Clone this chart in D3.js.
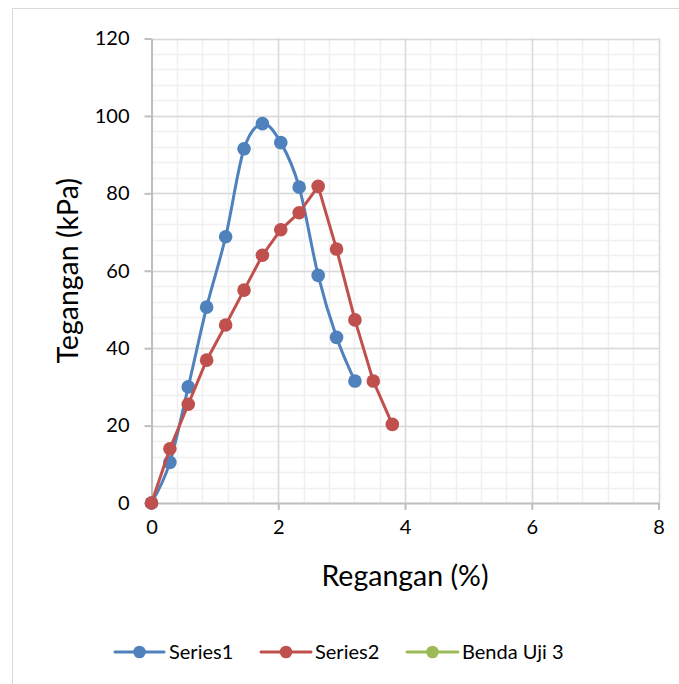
<!DOCTYPE html>
<html>
<head>
<meta charset="utf-8">
<script src="https://cdn.jsdelivr.net/npm/d3@7"></script>
<style>
  html, body { margin: 0; padding: 0; background: #fff; }
  svg { display: block; font-family: Lato, "Open Sans", sans-serif; }
</style>
</head>
<body>
<svg id="chart" width="679" height="684"></svg>
<script>
// Strain (%) and stress (kPa) readings for each specimen
const strain1 = [0, 0.29, 0.58, 0.87, 1.17, 1.46, 1.75, 2.04, 2.33, 2.63, 2.92, 3.21];
const stress1 = [0, 10.5, 30.0, 50.6, 68.8, 91.5, 98.0, 93.1, 81.6, 58.8, 42.8, 31.5];

const strain2 = [0, 0.29, 0.58, 0.87, 1.17, 1.46, 1.75, 2.04, 2.33, 2.63, 2.92, 3.21, 3.50, 3.80];
const stress2 = [0, 14.0, 25.5, 36.9, 46.0, 55.0, 64.0, 70.6, 75.0, 81.8, 65.6, 47.3, 31.5, 20.3];

const strain3 = [];
const stress3 = [];

const seriesNames = ["Series1", "Series2", "Benda Uji 3"];
const seriesColors = ["#4F81BD", "#C0504D", "#9BBB59"];
const seriesSmooth = [true, false, false];

const xTicks = [0, 2, 4, 6, 8];
const yTicks = [0, 20, 40, 60, 80, 100, 120];
const xMinorStep = 0.4;
const yMinorStep = 4;

const xTitle = "Regangan (%)";
const yTitle = "Tegangan (kPa)";

const svg = d3.select("#chart");

// chart frame
svg.append("rect")
  .attr("x", 12.5).attr("y", 8.5)
  .attr("width", 700).attr("height", 700)
  .attr("fill", "none").attr("stroke", "#D9D9D9").attr("stroke-width", 1);

const plot = { left: 151.5, right: 658.5, top: 38.5, bottom: 503 };

const x = d3.scaleLinear().domain([0, 8]).range([plot.left, plot.right]);
const y = d3.scaleLinear().domain([0, 120]).range([plot.bottom, plot.top]);

// minor gridlines
const xMinor = d3.range(0, 8 + 1e-9, xMinorStep);
const yMinor = d3.range(0, 120 + 1e-9, yMinorStep);
const grid = svg.append("g");
grid.selectAll(".xminor").data(xMinor).join("line")
  .attr("x1", d => Math.round(x(d)) + 0.5).attr("x2", d => Math.round(x(d)) + 0.5)
  .attr("y1", plot.top).attr("y2", plot.bottom)
  .attr("stroke", "#F0F0F0").attr("stroke-width", 1.5);
grid.selectAll(".yminor").data(yMinor).join("line")
  .attr("x1", plot.left).attr("x2", plot.right)
  .attr("y1", d => Math.round(y(d)) + 0.5).attr("y2", d => Math.round(y(d)) + 0.5)
  .attr("stroke", "#F0F0F0").attr("stroke-width", 1.5);

// major gridlines
grid.selectAll(".xmajor").data(xTicks.slice(1)).join("line")
  .attr("x1", d => Math.round(x(d)) + 0.5).attr("x2", d => Math.round(x(d)) + 0.5)
  .attr("y1", plot.top).attr("y2", plot.bottom)
  .attr("stroke", "#D9D9D9").attr("stroke-width", 1.5);
grid.selectAll(".ymajor").data(yTicks.slice(1)).join("line")
  .attr("x1", plot.left).attr("x2", plot.right)
  .attr("y1", d => Math.round(y(d)) + 0.5).attr("y2", d => Math.round(y(d)) + 0.5)
  .attr("stroke", "#D9D9D9").attr("stroke-width", 1.5);

// axes
const xAxis = d3.axisBottom(x).tickValues(xTicks).tickSizeInner(7).tickSizeOuter(0).tickPadding(10);
const yAxis = d3.axisLeft(y).tickValues(yTicks).tickSizeInner(7).tickSizeOuter(0).tickPadding(15);

const gx = svg.append("g").attr("transform", `translate(0,${plot.bottom})`).call(xAxis);
const gy = svg.append("g").attr("transform", `translate(${plot.left},0)`).call(yAxis);

[gx, gy].forEach(g => {
  g.select(".domain").attr("stroke", "#BFBFBF").attr("stroke-width", 2);
  g.selectAll(".tick line").attr("stroke", "#BFBFBF").attr("stroke-width", 2);
  g.selectAll(".tick text").attr("fill", "#000").style("font-size", "20px")
    .style("font-family", "Lato, sans-serif");
});

// axis titles
svg.append("text")
  .attr("x", (plot.left + plot.right) / 2).attr("y", 586)
  .attr("text-anchor", "middle").attr("fill", "#000")
  .style("font-size", "28.5px").text(xTitle);

svg.append("text")
  .attr("transform", `translate(78,${(plot.top + plot.bottom) / 2}) rotate(-90)`)
  .attr("text-anchor", "middle").attr("fill", "#000")
  .style("font-size", "28.5px").text(yTitle);

// series
const series = [
  { xs: strain1, ys: stress1 },
  { xs: strain2, ys: stress2 },
  { xs: strain3, ys: stress3 }
];

series.forEach((s, i) => {
  const pts = s.xs.map((v, j) => [v, s.ys[j]]);
  if (!pts.length) return;
  const line = d3.line()
    .x(d => x(d[0])).y(d => y(d[1]))
    .curve(seriesSmooth[i] ? d3.curveCardinal.tension(0) : d3.curveLinear);
  const g = svg.append("g");
  g.append("path").datum(pts).attr("d", line)
    .attr("fill", "none").attr("stroke", seriesColors[i])
    .attr("stroke-width", 3).attr("stroke-linejoin", "round").attr("stroke-linecap", "round");
  g.selectAll("circle").data(pts).join("circle")
    .attr("cx", d => x(d[0])).attr("cy", d => y(d[1])).attr("r", 6.8)
    .attr("fill", seriesColors[i]);
});

// legend
const legendY = 652;
const legendItems = [
  { x0: 115, x1: 164, tx: 169 },
  { x0: 261, x1: 311, tx: 315 },
  { x0: 407, x1: 458, tx: 462 }
];
const legend = svg.append("g");
seriesNames.forEach((name, i) => {
  const it = legendItems[i];
  legend.append("line")
    .attr("x1", it.x0).attr("x2", it.x1).attr("y1", legendY).attr("y2", legendY)
    .attr("stroke", seriesColors[i]).attr("stroke-width", 3).attr("stroke-linecap", "round");
  legend.append("circle")
    .attr("cx", (it.x0 + it.x1) / 2).attr("cy", legendY).attr("r", 6.3)
    .attr("fill", seriesColors[i]);
  legend.append("text")
    .attr("x", it.tx).attr("y", legendY).attr("dy", "0.36em")
    .attr("fill", "#000").style("font-size", "20px").text(name);
});
</script>
</body>
</html>
